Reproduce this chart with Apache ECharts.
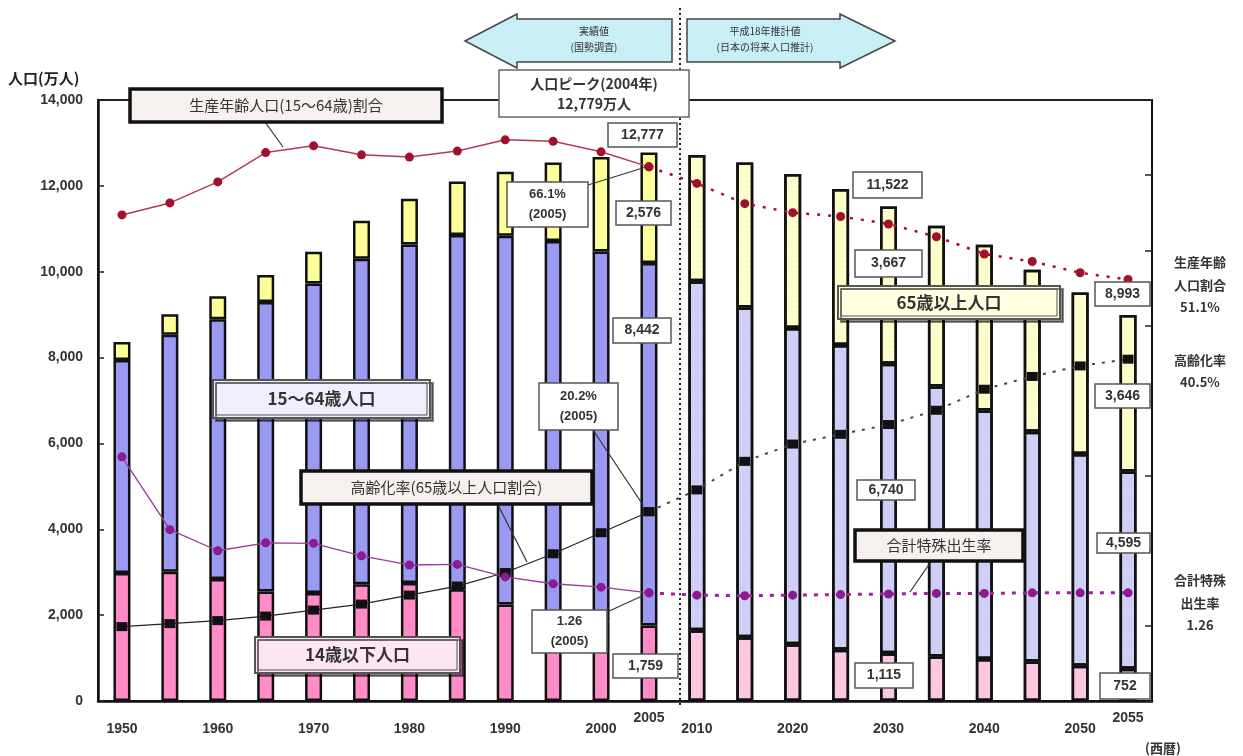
<!DOCTYPE html>
<html>
<head>
<meta charset="utf-8">
<script src="https://cdn.jsdelivr.net/npm/echarts@6/dist/echarts.min.js"></script>
<style>
html, body { margin: 0; padding: 0; background: #fff; }
#main { width: 1243px; height: 756px; }
</style>
</head>
<body>
<div id="main"></div>
<script>
// 年次（5年ごと）
var years = ['1950', '1955', '1960', '1965', '1970', '1975', '1980', '1985', '1990', '1995', '2000', '2005',
    '2010', '2015', '2020', '2025', '2030', '2035', '2040', '2045', '2050', '2055'];
// 人口（万人）
var young = [2979, 3012, 2843, 2553, 2515, 2722, 2751, 2603, 2249, 2001, 1847, 1759,
    1648, 1484, 1324, 1195, 1115, 1037, 980, 919, 821, 752];
var working = [4966, 5517, 6047, 6744, 7212, 7581, 7884, 8251, 8590, 8716, 8622, 8442,
    8129, 7681, 7363, 7096, 6740, 6292, 5787, 5353, 4930, 4595];
var old = [416, 479, 540, 624, 739, 887, 1065, 1247, 1489, 1826, 2204, 2576,
    2941, 3378, 3590, 3635, 3667, 3740, 3863, 3772, 3764, 3646];
// 割合（％）と合計特殊出生率
var workRatio = [59.7, 61.3, 64.1, 68.0, 68.9, 67.7, 67.4, 68.2, 69.7, 69.5, 68.1, 66.1,
    63.9, 61.2, 60.0, 59.5, 58.5, 56.8, 54.5, 53.5, 52.0, 51.1];
var agedRatio = [4.9, 5.3, 5.7, 6.3, 7.1, 7.9, 9.1, 10.3, 12.1, 14.6, 17.4, 20.2,
    23.1, 26.9, 29.2, 30.5, 31.8, 33.7, 36.5, 38.2, 39.6, 40.5];
var tfr = [3.65, 2.37, 2.00, 2.14, 2.13, 1.91, 1.75, 1.76, 1.54, 1.42, 1.36, 1.26,
    1.22, 1.21, 1.22, 1.23, 1.24, 1.25, 1.25, 1.26, 1.26, 1.26];

var lastActual = 11;   // 2005 = 実績値の最後
var shownLabels = [0, 2, 4, 6, 8, 10, 11, 12, 14, 16, 18, 20, 21];
var raisedLabels = [11, 21];

var JP = '"Noto Sans CJK JP"';
var NUM = '"Liberation Sans"';

var dots = { symbol: 'circle', symbolSize: 0.35, dashArrayX: [1, 0], dashArrayY: [3, 2], color: 'rgba(80,80,120,0.18)' };

function barData(vals, color, projColor) {
    return vals.map(function (v, i) {
        if (i <= lastActual) return { value: v, itemStyle: { color: color } };
        return { value: v, itemStyle: { color: projColor, decal: dots } };
    });
}
function histPart(vals) {
    return vals.map(function (v, i) { return i <= lastActual ? v : '-'; });
}
function projPart(vals) {
    return vals.map(function (v, i) { return i >= lastActual ? v : '-'; });
}

function box(x, y, w, h, text, o) {
    o = o || {};
    var kids = [
        { type: 'rect', z: 100, shape: { x: 0, y: 0, width: w, height: h },
          style: { fill: o.fill || '#fff', stroke: o.stroke || '#555', lineWidth: o.lw || 1.5,
                   shadowColor: o.shadow ? 'rgba(0,0,0,0.45)' : null, shadowOffsetX: o.shadow ? 3 : 0, shadowOffsetY: o.shadow ? 3 : 0 } }
    ];
    if (o.double) {
        kids.push({ type: 'rect', z: 101, shape: { x: 3, y: 3, width: w - 6, height: h - 6 },
            style: { fill: 'none', stroke: o.stroke || '#555', lineWidth: 1 } });
    }
    kids.push({ type: 'text', z: 102, x: w / 2, y: h / 2,
        style: { text: text, align: 'center', verticalAlign: 'middle',
                 font: o.font || ('bold 14px ' + NUM), fill: o.color || '#333', lineHeight: o.lh || 18 } });
    return { type: 'group', x: x, y: y, z: 100, children: kids };
}
function leader(x1, y1, x2, y2) {
    return { type: 'line', z: 99, shape: { x1: x1, y1: y1, x2: x2, y2: y2 }, style: { stroke: '#333', lineWidth: 1.2 } };
}
function label(x, y, text, font) {
    return { type: 'text', x: x, y: y, z: 100,
        style: { text: text, align: 'center', verticalAlign: 'middle', font: font || ('bold 13px ' + JP), fill: '#333', lineHeight: 22 } };
}

var thick = { fill: '#f6f0ee', stroke: '#111', lw: 3.5, font: '15px ' + JP, color: '#333' };

var graphics = [
    // 矢印
    { type: 'polygon', z: 90, shape: { points: [[465, 41], [517, 14], [517, 19], [672, 19], [672, 62], [517, 62], [517, 68]] },
      style: { fill: '#c8eef6', stroke: '#444', lineWidth: 1.5 } },
    { type: 'polygon', z: 90, shape: { points: [[687, 19], [840, 19], [840, 14], [895, 41], [840, 68], [840, 62], [687, 62]] },
      style: { fill: '#c8eef6', stroke: '#444', lineWidth: 1.5 } },
    label(594, 31, '実績値', '10px ' + JP),
    label(594, 47, '(国勢調査)', '10px ' + JP),
    label(765, 31, '平成18年推計値', '10px ' + JP),
    label(765, 47, '(日本の将来人口推計)', '10px ' + JP),
    // 実績と推計の境目
    { type: 'line', z: 95, shape: { x1: 680, y1: 8, x2: 680, y2: 708 }, style: { stroke: '#222', lineWidth: 2, lineDash: [2, 3] } },

    box(499, 70, 190, 47, '人口ピーク(2004年)\n12,779万人', { font: 'bold 14px ' + JP, lh: 20, stroke: '#666' }),
    box(608, 123, 69, 24, '12,777'),

    leader(265, 122, 283, 147),
    box(130, 89, 312, 33, '生産年齢人口(15～64歳)割合', thick),

    leader(588, 185, 646, 167),
    box(507, 182, 81, 45, '66.1%\n(2005)', { font: 'bold 13px ' + NUM, lh: 20 }),
    box(616, 201, 55, 24, '2,576'),
    box(613, 318, 58, 25, '8,442'),

    leader(593, 430, 643, 505),
    box(539, 383, 79, 47, '20.2%\n(2005)', { font: 'bold 13px ' + NUM, lh: 20 }),

    leader(497, 503, 527, 562),
    box(301, 471, 291, 33, '高齢化率(65歳以上人口割合)', thick),

    leader(607, 612, 642, 596),
    box(532, 610, 75, 43, '1.26\n(2005)', { font: 'bold 13px ' + NUM, lh: 20 }),
    box(613, 654, 65, 24, '1,759'),

    box(213, 380, 217, 38, '15～64歳人口', { fill: '#eeeeff', stroke: '#555', lw: 2, double: true, shadow: true, font: 'bold 17px ' + JP }),
    box(255, 637, 205, 36, '14歳以下人口', { fill: '#fde6f1', stroke: '#555', lw: 2, double: true, shadow: true, font: 'bold 17px ' + JP }),
    box(838, 286, 222, 33, '65歳以上人口', { fill: '#ffffe0', stroke: '#555', lw: 2, double: true, shadow: true, font: 'bold 17px ' + JP }),

    box(853, 172, 69, 26, '11,522'),
    box(855, 250, 67, 27, '3,667'),
    box(857, 480, 58, 20, '6,740'),
    leader(932, 560, 910, 592),
    box(855, 530, 168, 31, '合計特殊出生率', thick),
    box(855, 663, 58, 25, '1,115'),

    box(1095, 282, 55, 24, '8,993'),
    box(1095, 384, 55, 24, '3,646'),
    box(1097, 533, 53, 20, '4,595'),
    box(1100, 673, 50, 26, '752'),

    label(1200, 262, '生産年齢'),
    label(1200, 285, '人口割合'),
    label(1200, 307, '51.1%'),
    label(1200, 360, '高齢化率'),
    label(1200, 382, '40.5%'),
    label(1200, 580, '合計特殊'),
    label(1200, 603, '出生率'),
    label(1200, 625, '1.26'),
    label(1163, 748, '(西暦)'),
    { type: 'text', x: 8, y: 78, z: 100, style: { text: '人口(万人)', verticalAlign: 'middle', font: 'bold 15px ' + JP, fill: '#222' } }
];

var chart = echarts.init(document.getElementById('main'));
chart.setOption({
    animation: false,
    backgroundColor: '#fff',
    grid: { left: 98, right: 91, top: 100, bottom: 55, show: true, borderColor: '#222', borderWidth: 2 },
    xAxis: {
        type: 'category',
        data: years,
        axisLine: { lineStyle: { color: '#111', width: 2.5 } },
        axisTick: { inside: true, length: 5, interval: 0, lineStyle: { color: '#222', width: 1.5 } },
        axisLabel: {
            interval: 0, margin: 12, lineHeight: 11,
            fontSize: 14, fontWeight: 'bold', fontFamily: NUM, color: '#333',
            formatter: function (v, i) {
                if (shownLabels.indexOf(i) < 0) return '';
                return raisedLabels.indexOf(i) >= 0 ? v : '\n' + v;
            }
        }
    },
    yAxis: [
        { type: 'value', min: 0, max: 14000, interval: 2000,
          axisLine: { show: true, lineStyle: { color: '#111', width: 2.5 } },
          axisTick: { show: true, inside: true, length: 6, lineStyle: { color: '#222', width: 1.5 } },
          axisLabel: { margin: 15, fontSize: 14, fontWeight: 'bold', fontFamily: NUM, color: '#333',
                       formatter: function (v) { return v.toLocaleString('en-US'); } },
          splitLine: { show: false } },
        { type: 'value', position: 'right', min: 0, max: 8, interval: 1,
          axisLine: { show: true, lineStyle: { color: '#111', width: 2 } },
          axisTick: { show: true, inside: true, length: 7, lineStyle: { color: '#222', width: 1.5 } },
          axisLabel: { show: false }, splitLine: { show: false } },
        { type: 'value', show: false, min: -5, max: 75, splitLine: { show: false } },
        { type: 'value', show: false, min: -0.64, max: 9.92, splitLine: { show: false } }
    ],
    series: [
        { name: '14歳以下人口', type: 'bar', stack: 'pop', barWidth: 17,
          itemStyle: { borderColor: '#111', borderWidth: 2.5 },
          data: barData(young, '#ff8cc6', '#ffc8e2') },
        { name: '15～64歳人口', type: 'bar', stack: 'pop', barWidth: 17,
          itemStyle: { borderColor: '#111', borderWidth: 2.5 },
          data: barData(working, '#9a9af2', '#cfcff8') },
        { name: '65歳以上人口', type: 'bar', stack: 'pop', barWidth: 17,
          itemStyle: { borderColor: '#111', borderWidth: 2.5 },
          data: barData(old, '#ffff99', '#ffffcc') },

        { name: '生産年齢人口割合', type: 'line', yAxisIndex: 2, data: histPart(workRatio),
          symbol: 'circle', symbolSize: 9, itemStyle: { color: '#a3102c' }, lineStyle: { color: '#b23a4c', width: 1.5 } },
        { name: '生産年齢人口割合(推計)', type: 'line', yAxisIndex: 2, data: projPart(workRatio),
          symbol: 'circle', symbolSize: 9, itemStyle: { color: '#a3102c' }, lineStyle: { color: '#a3102c', width: 2.5, type: [3, 8] } },

        { name: '高齢化率', type: 'line', yAxisIndex: 2, data: histPart(agedRatio),
          symbol: 'rect', symbolSize: [11, 9], itemStyle: { color: '#111' }, lineStyle: { color: '#222', width: 1.2 } },
        { name: '高齢化率(推計)', type: 'line', yAxisIndex: 2, data: projPart(agedRatio),
          symbol: 'rect', symbolSize: [11, 9], itemStyle: { color: '#111' }, lineStyle: { color: '#444', width: 2, type: [3, 7] } },

        { name: '合計特殊出生率', type: 'line', yAxisIndex: 3, data: histPart(tfr),
          symbol: 'circle', symbolSize: 9, itemStyle: { color: '#8e1a8e' }, lineStyle: { color: '#9a3a9a', width: 1.3 } },
        { name: '合計特殊出生率(推計)', type: 'line', yAxisIndex: 3, data: projPart(tfr),
          symbol: 'circle', symbolSize: 9, itemStyle: { color: '#8e1a8e' }, lineStyle: { color: '#a020a0', width: 3, type: [4, 7] } }
    ],
    graphic: graphics
});
</script>
</body>
</html>
